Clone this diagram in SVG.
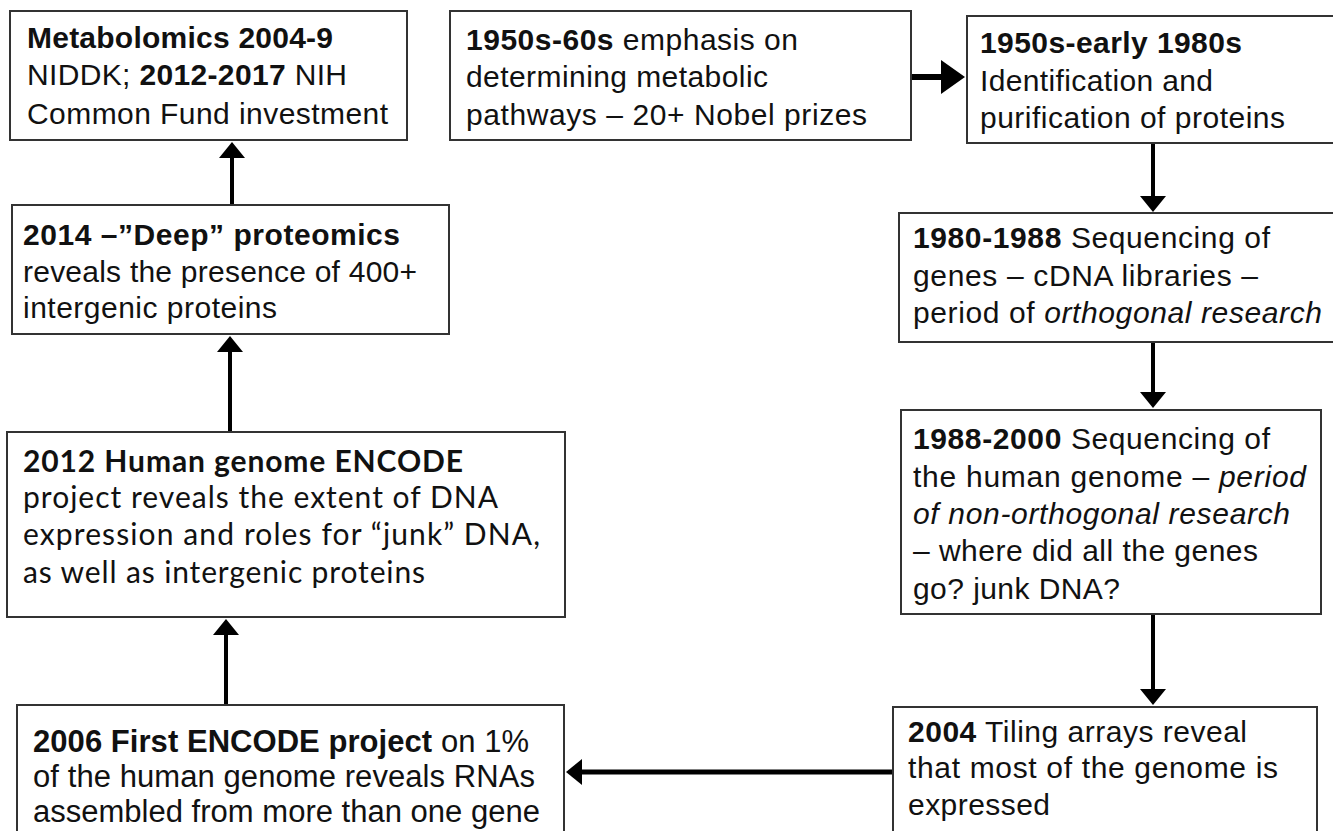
<svg xmlns="http://www.w3.org/2000/svg" width="1333" height="831" viewBox="0 0 1333 831">
<style>
.box{fill:#fff;stroke:#333;stroke-width:2}
.t{font-family:"Liberation Sans",Arial,sans-serif;font-size:30px;fill:#111}
.n{font-family:"Liberation Sans",Arial,sans-serif;font-size:31px;fill:#111}
.c{font-family:Lato,"Open Sans",sans-serif;font-size:30px;fill:#111}
.b{font-weight:bold}
.i{font-style:italic}
.ln{stroke:#000;fill:none}
</style>
<defs>
<marker id="ah" markerUnits="userSpaceOnUse" viewBox="0 0 16 26" markerWidth="16" markerHeight="26" refX="10" refY="13" orient="auto"><path d="M0,0 L16,13 L0,26 z" fill="#000"/></marker>
<marker id="ahb" markerUnits="userSpaceOnUse" viewBox="0 0 24 34" markerWidth="24" markerHeight="34" refX="16" refY="17" orient="auto"><path d="M0,0 L24,17 L0,34 z" fill="#000"/></marker>
</defs>
<rect width="1333" height="831" fill="#fff"/>
<g id="connectors">
<line class="ln" x1="911" y1="77" x2="957" y2="77" stroke-width="6" marker-end="url(#ahb)"/>
<line class="ln" x1="1153" y1="143" x2="1153" y2="206" stroke-width="4" marker-end="url(#ah)"/>
<line class="ln" x1="1153" y1="342" x2="1153" y2="402" stroke-width="4" marker-end="url(#ah)"/>
<line class="ln" x1="1153" y1="614" x2="1153" y2="699" stroke-width="4" marker-end="url(#ah)"/>
<line class="ln" x1="893" y1="772" x2="572" y2="772" stroke-width="5" marker-end="url(#ah)"/>
<line class="ln" x1="226" y1="705" x2="226" y2="625" stroke-width="4" marker-end="url(#ah)"/>
<line class="ln" x1="230" y1="432" x2="230" y2="342" stroke-width="4" marker-end="url(#ah)"/>
<line class="ln" x1="232" y1="205" x2="232" y2="148" stroke-width="4" marker-end="url(#ah)"/>
</g>
<g id="n-metabolomics">
<rect class="box" x="10" y="11" width="397" height="129"/>
<text class="t" x="27" y="48" textLength="306"><tspan class="b">Metabolomics 2004-9</tspan></text>
<text class="t" x="27" y="85" textLength="320">NIDDK; <tspan class="b">2012-2017</tspan> NIH</text>
<text class="t" x="27" y="124" textLength="361">Common Fund investment</text>
</g>
<g id="n-1950s60s">
<rect class="box" x="450" y="11" width="461" height="129"/>
<text class="t" x="466" y="50" textLength="332"><tspan class="b">1950s-60s</tspan> emphasis on</text>
<text class="t" x="466" y="87" textLength="302">determining metabolic</text>
<text class="t" x="466" y="125" textLength="401">pathways – 20+ Nobel prizes</text>
</g>
<g id="n-1950s80s">
<rect class="box" x="967" y="16" width="373" height="127"/>
<text class="t" x="980" y="53" textLength="262"><tspan class="b">1950s-early 1980s</tspan></text>
<text class="t" x="980" y="91" textLength="233">Identification and</text>
<text class="t" x="980" y="128" textLength="305">purification of proteins</text>
</g>
<g id="n-1980">
<rect class="box" x="899" y="213" width="441" height="129"/>
<text class="t" x="913" y="248" textLength="357"><tspan class="b">1980-1988</tspan> Sequencing of</text>
<text class="t" x="913" y="286" textLength="345">genes – cDNA libraries –</text>
<text class="t" x="913" y="323" textLength="409">period of <tspan class="i">orthogonal research</tspan></text>
</g>
<g id="n-1988">
<rect class="box" x="901" y="410" width="420" height="204"/>
<text class="t" x="913" y="449" textLength="357"><tspan class="b">1988-2000</tspan> Sequencing of</text>
<text class="t" x="913" y="487" textLength="393">the human genome – <tspan class="i">period</tspan></text>
<text class="t i" x="913" y="524" textLength="377">of non-orthogonal research</text>
<text class="t" x="913" y="561" textLength="345">– where did all the genes</text>
<text class="t" x="913" y="599" textLength="207">go? junk DNA?</text>
</g>
<g id="n-2004">
<rect class="box" x="893" y="707" width="424" height="140"/>
<text class="t" x="908" y="742" textLength="339"><tspan class="b">2004</tspan> Tiling arrays reveal</text>
<text class="t" x="908" y="778" textLength="370">that most of the genome is</text>
<text class="t" x="908" y="815" textLength="142">expressed</text>
</g>
<g id="n-2006">
<rect class="box" x="17" y="705" width="547" height="140"/>
<text class="n" x="33" y="752" textLength="496"><tspan class="b">2006 First ENCODE project</tspan> on 1%</text>
<text class="n" x="33" y="787" textLength="502">of the human genome reveals RNAs</text>
<text class="n" x="33" y="822" textLength="507">assembled from more than one gene</text>
</g>
<g id="n-2012">
<rect class="box" x="7" y="432" width="558" height="185"/>
<text class="c" x="23" y="472" textLength="440"><tspan class="b">2012 Human genome ENCODE</tspan></text>
<text class="c" x="23" y="508" textLength="475">project reveals the extent of DNA</text>
<text class="c" x="23" y="545" textLength="517">expression and roles for “junk” DNA,</text>
<text class="c" x="23" y="583" textLength="402">as well as intergenic proteins</text>
</g>
<g id="n-2014">
<rect class="box" x="12" y="205" width="437" height="129"/>
<text class="t" x="23" y="245" textLength="377"><tspan class="b">2014 –”Deep” proteomics</tspan></text>
<text class="t" x="23" y="282" textLength="394">reveals the presence of 400+</text>
<text class="t" x="23" y="318" textLength="254">intergenic proteins</text>
</g>
</svg>
